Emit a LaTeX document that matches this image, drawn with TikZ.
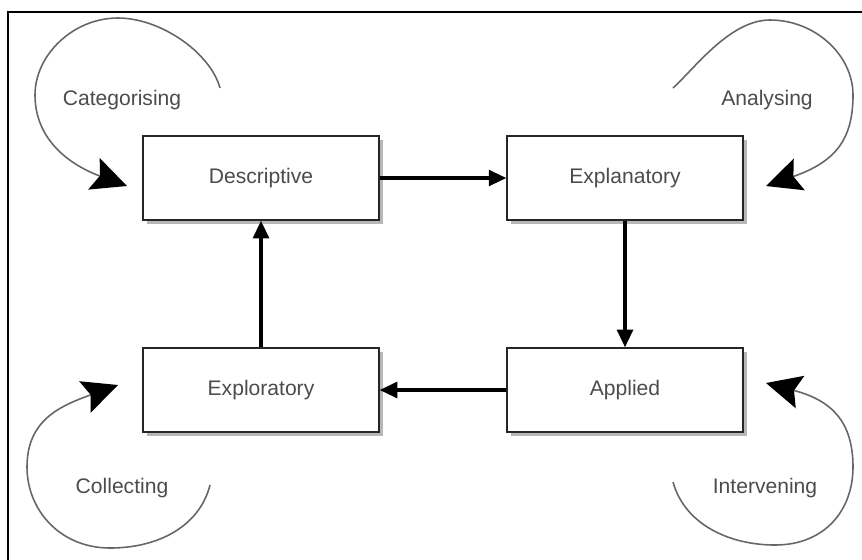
\documentclass[tikz,border=0pt]{standalone}
\usepackage{fontspec}
\setmainfont{Liberation Sans}
\usetikzlibrary{arrows.meta,shadows}

\begin{document}
\begin{tikzpicture}[x=0.02cm, y=-0.02cm, font=\fontsize{12}{14}\selectfont,
  stage/.style={draw=black!85, line width=0.8pt, fill=white, minimum width=4.72cm,
    minimum height=1.68cm, text=black!70,
    drop shadow={shadow xshift=2.2pt, shadow yshift=-2.2pt, fill=black!40, opacity=0.7}},
  flow/.style={-{Triangle[length=10pt,width=9pt]}, line width=1.8pt},
  selfloop/.style={-{Stealth[length=20pt,width=19pt,inset=3.5pt,color=black]},
    draw=black!60, line width=0.9pt},
  activity/.style={text=black!70}]
\useasboundingbox (0,0) rectangle (862,559);
% frame (cut at right and bottom)
\draw[line width=1.2pt] (8,580) -- (8,12) -- (885,12);

% Stages
\node[stage] (desc) at (261,178) {Descriptive};
\node[stage] (expl) at (625,178) {Explanatory};
\node[stage] (appl) at (625,390) {Applied};
\node[stage] (expo) at (261,390) {Exploratory};

\draw[flow] (desc) -- (expl);
\draw[flow] (expl) -- (appl);
\draw[flow] (appl) -- (expo);
\draw[flow] (expo) -- (desc);

% Activities
\node[activity] (categ) at (122,100) {Categorising};
\node[activity] (analy) at (767,100) {Analysing};
\node[activity] (collec) at (122,488) {Collecting};
\node[activity] (interv) at (765,488) {Intervening};

\coordinate (categ-out) at (220,88);
\coordinate (categ-in) at (127,186);
\coordinate (analy-out) at (673,88);
\coordinate (analy-in) at (766,186);
\coordinate (collec-out) at (210,485);
\coordinate (collec-in) at (118,385);
\coordinate (interv-out) at (673,482);
\coordinate (interv-in) at (766,383);

\draw[selfloop] (categ-out) .. controls (210,52) and (160,18) .. (118,18)
  .. controls (73,18) and (35,55) .. (35,95)
  .. controls (35,140) and (70,165) .. (categ-in);
\draw[selfloop] (analy-out) .. controls (695,68) and (730,20) .. (770,20)
  .. controls (815,20) and (853,55) .. (853,95)
  .. controls (853,140) and (835,162) .. (analy-in);
\draw[selfloop] (collec-out) .. controls (200,525) and (160,548) .. (110,548)
  .. controls (60,548) and (27,510) .. (27,467)
  .. controls (27,420) and (60,406) .. (collec-in);
\draw[selfloop] (interv-out) .. controls (685,525) and (730,545) .. (775,545)
  .. controls (825,545) and (853,510) .. (853,467)
  .. controls (853,420) and (830,400) .. (interv-in);
\end{tikzpicture}
\end{document}
